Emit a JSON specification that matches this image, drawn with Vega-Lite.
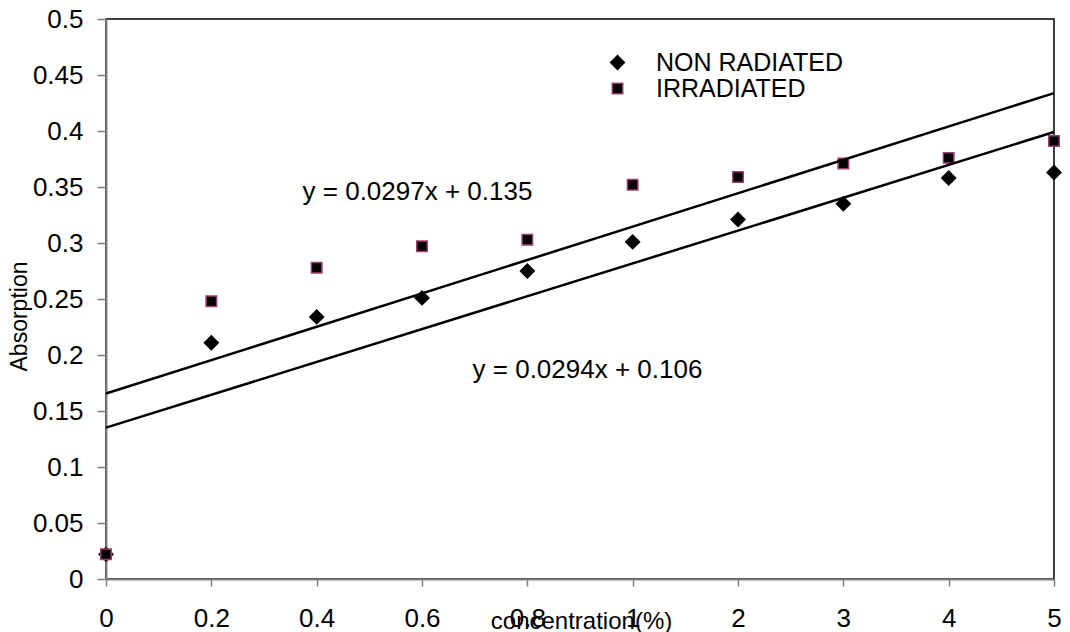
{
  "$schema": "https://vega.github.io/schema/vega-lite/v6.json",
  "width": 948,
  "height": 560,
  "autosize": {"type": "none"},
  "padding": {"left": 106, "top": 19, "right": 16, "bottom": 53},
  "background": "white",
  "config": {
    "font": "Liberation Sans",
    "view": {"stroke": "black", "strokeWidth": 1.5},
    "axis": {
      "grid": false,
      "domainColor": "#808080",
      "domainWidth": 2,
      "tickColor": "#808080",
      "tickWidth": 1.5,
      "labelColor": "black",
      "labelFont": "Liberation Sans",
      "labelFontSize": 26,
      "titleColor": "black",
      "titleFont": "Liberation Sans",
      "titleFontWeight": "normal"
    }
  },
  "data": {
    "values": [
      {"idx": 1, "conc": "0", "series": "NON RADIATED", "value": 0.022},
      {"idx": 2, "conc": "0.2", "series": "NON RADIATED", "value": 0.211},
      {"idx": 3, "conc": "0.4", "series": "NON RADIATED", "value": 0.234},
      {"idx": 4, "conc": "0.6", "series": "NON RADIATED", "value": 0.251},
      {"idx": 5, "conc": "0.8", "series": "NON RADIATED", "value": 0.275},
      {"idx": 6, "conc": "1", "series": "NON RADIATED", "value": 0.301},
      {"idx": 7, "conc": "2", "series": "NON RADIATED", "value": 0.321},
      {"idx": 8, "conc": "3", "series": "NON RADIATED", "value": 0.335},
      {"idx": 9, "conc": "4", "series": "NON RADIATED", "value": 0.358},
      {"idx": 10, "conc": "5", "series": "NON RADIATED", "value": 0.363},
      {"idx": 1, "conc": "0", "series": "IRRADIATED", "value": 0.022},
      {"idx": 2, "conc": "0.2", "series": "IRRADIATED", "value": 0.248},
      {"idx": 3, "conc": "0.4", "series": "IRRADIATED", "value": 0.278},
      {"idx": 4, "conc": "0.6", "series": "IRRADIATED", "value": 0.297},
      {"idx": 5, "conc": "0.8", "series": "IRRADIATED", "value": 0.303},
      {"idx": 6, "conc": "1", "series": "IRRADIATED", "value": 0.352},
      {"idx": 7, "conc": "2", "series": "IRRADIATED", "value": 0.359},
      {"idx": 8, "conc": "3", "series": "IRRADIATED", "value": 0.371},
      {"idx": 9, "conc": "4", "series": "IRRADIATED", "value": 0.376},
      {"idx": 10, "conc": "5", "series": "IRRADIATED", "value": 0.391}
    ]
  },
  "layer": [
    {
      "mark": {"type": "point", "filled": true, "fill": "black", "strokeWidth": 1.5, "opacity": 1},
      "encoding": {
        "x": {
          "field": "idx",
          "type": "quantitative",
          "scale": {"domain": [1, 10], "nice": false, "zero": false},
          "axis": {
            "values": [1, 2, 3, 4, 5, 6, 7, 8, 9, 10],
            "labelExpr": "['0','0.2','0.4','0.6','0.8','1','2','3','4','5'][datum.value - 1]",
            "tickSize": 7,
            "labelPadding": 19,
            "labelFlush": false,
            "labelOverlap": false,
            "title": "concentration(%)",
            "titleFontSize": 24,
            "titleX": 475,
            "titleY": 49,
            "titleAlign": "center",
            "titleBaseline": "alphabetic"
          }
        },
        "y": {
          "field": "value",
          "type": "quantitative",
          "scale": {"domain": [0, 0.5], "nice": false},
          "axis": {
            "values": [0, 0.05, 0.1, 0.15, 0.2, 0.25, 0.3, 0.35, 0.4, 0.45, 0.5],
            "format": "~g",
            "tickSize": 9,
            "labelPadding": 14,
            "labelFlush": false,
            "labelOverlap": false,
            "title": "Absorption",
            "titleFontSize": 23,
            "titleX": -87,
            "titleY": 297,
            "titleAngle": -90,
            "titleAlign": "center",
            "titleBaseline": "middle"
          }
        },
        "shape": {
          "field": "series",
          "type": "nominal",
          "scale": {"domain": ["NON RADIATED", "IRRADIATED"], "range": ["diamond", "square"]},
          "legend": {
            "title": null,
            "orient": "none",
            "legendX": 499,
            "legendY": 31,
            "padding": 0,
            "rowPadding": -2,
            "labelFontSize": 25,
            "labelLimit": 500,
            "labelFont": "Liberation Sans",
            "labelColor": "black",
            "labelOffset": 26,
            "symbolFillColor": "black",
            "symbolStrokeWidth": 1.5,
            "symbolOpacity": 1
          }
        },
        "stroke": {
          "field": "series",
          "type": "nominal",
          "scale": {"domain": ["NON RADIATED", "IRRADIATED"], "range": ["black", "#9E3D6E"]},
          "legend": {
            "title": null,
            "orient": "none",
            "legendX": 499,
            "legendY": 31,
            "padding": 0,
            "rowPadding": -2,
            "labelFontSize": 25,
            "labelLimit": 500,
            "labelFont": "Liberation Sans",
            "labelColor": "black",
            "labelOffset": 26,
            "symbolFillColor": "black",
            "symbolStrokeWidth": 1.5,
            "symbolOpacity": 1
          }
        },
        "size": {
          "field": "series",
          "type": "nominal",
          "scale": {"domain": ["NON RADIATED", "IRRADIATED"], "range": [190, 110]},
          "legend": {
            "title": null,
            "orient": "none",
            "legendX": 499,
            "legendY": 31,
            "padding": 0,
            "rowPadding": -2,
            "labelFontSize": 25,
            "labelLimit": 500,
            "labelFont": "Liberation Sans",
            "labelColor": "black",
            "labelOffset": 26,
            "symbolFillColor": "black",
            "symbolStrokeWidth": 1.5,
            "symbolOpacity": 1
          }
        }
      }
    },
    {
      "transform": [{"regression": "value", "on": "idx", "groupby": ["series"]}],
      "mark": {"type": "line", "color": "black", "strokeWidth": 2.5},
      "encoding": {
        "x": {"field": "idx", "type": "quantitative"},
        "y": {"field": "value", "type": "quantitative"},
        "detail": {"field": "series", "type": "nominal"}
      }
    },
    {
      "data": {
        "values": [
          {"label": "y = 0.0297x + 0.135", "idx": 3.957, "value": 0.3455},
          {"label": "y = 0.0294x + 0.106", "idx": 5.571, "value": 0.1866}
        ]
      },
      "mark": {"type": "text", "font": "Liberation Sans", "fontSize": 26, "align": "center", "baseline": "middle", "color": "black"},
      "encoding": {
        "x": {"field": "idx", "type": "quantitative"},
        "y": {"field": "value", "type": "quantitative"},
        "text": {"field": "label", "type": "nominal"}
      }
    }
  ]
}
